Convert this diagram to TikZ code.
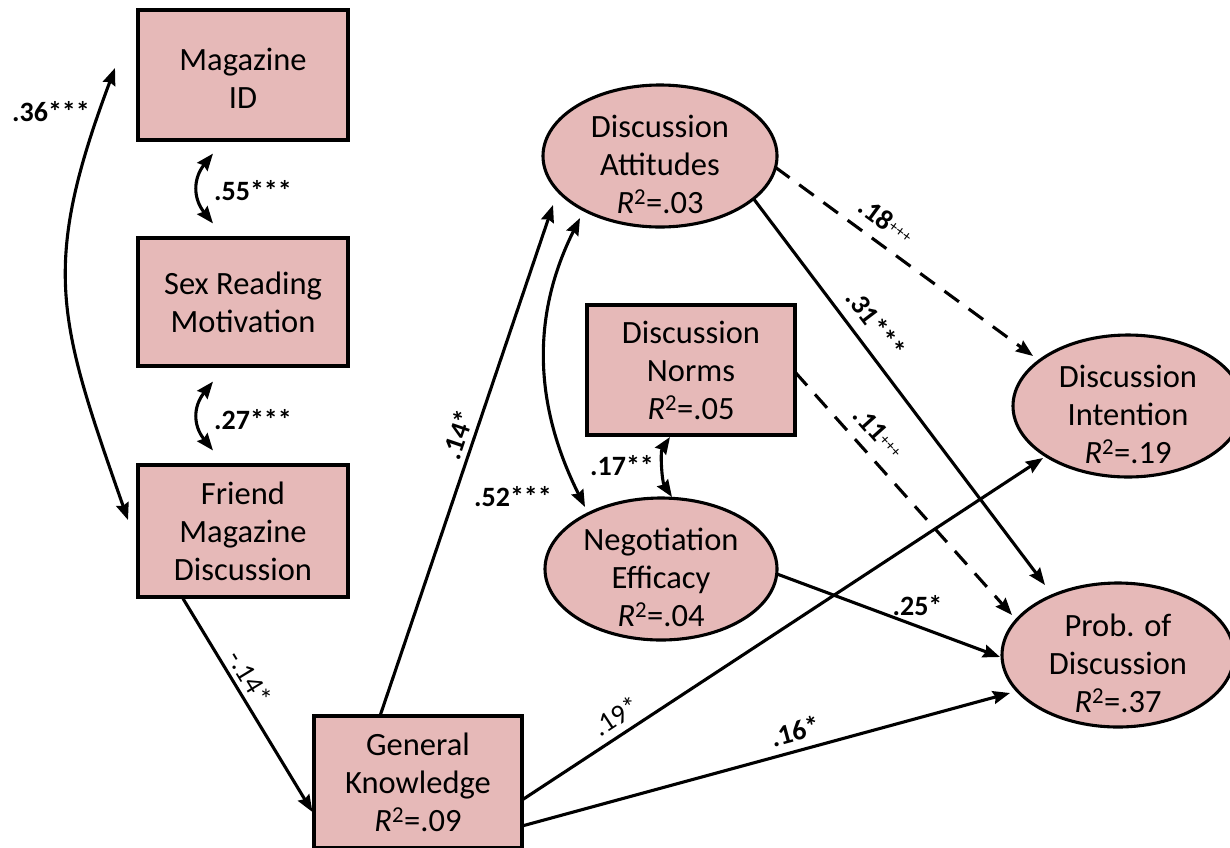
\documentclass[tikz,border=0pt]{standalone}
\usepackage{fontspec}
\setmainfont{Carlito}
\usetikzlibrary{arrows.meta,shapes.geometric}
\definecolor{nodefill}{HTML}{E6B9B8}
\newcommand{\Rsq}[1]{\textit{R}\textsuperscript{2}=.#1}
\newcommand{\pluses}{\raisebox{4pt}{\fontsize{16}{16}\selectfont\mdseries +++}}
% extra head room on the first line of the oval labels
\newcommand{\headroom}{\rule{0pt}{40pt}}
\begin{document}
\begin{tikzpicture}[x=1pt,y=-1pt,
  nodefont/.style={font=\fontsize{32.5}{38}\selectfont},
  box/.style={draw, line width=3.1pt, fill=nodefill, rectangle, align=center, inner sep=0pt, nodefont},
  oval/.style={draw, line width=3.1pt, fill=nodefill, ellipse, align=center, inner sep=-18pt, nodefont},
  tip/.tip={Stealth[length=17pt,width=13pt,inset=2pt]},
  link/.style={line width=3.1pt, -tip},
  dlink/.style={link, dash pattern=on 18pt off 12pt},
  corr/.style={line width=3.1pt, tip-tip},
  lab/.style={font=\fontsize{28}{28}\selectfont\bfseries, inner sep=2pt},
  labr/.style={font=\fontsize{28}{28}\selectfont, inner sep=2pt}]
\useasboundingbox (0,0) rectangle (1230,847);

% observed variables
\node[box, minimum width=210pt, minimum height=130pt] (magid) at (243,75) {\rule{0pt}{28pt}Magazine\\ID};
\node[box, minimum width=210pt, minimum height=128pt] (sexmot) at (243,302) {Sex Reading\\Motivation};
\node[box, minimum width=210pt, minimum height=132pt] (friend) at (243,531) {Friend\\Magazine\\Discussion};
\node[box, minimum width=208pt, minimum height=132pt] (gk) at (418,782) {General\\Knowledge\\\Rsq{09}};
\node[box, minimum width=208pt, minimum height=130pt] (dnorms) at (691,370) {Discussion\\Norms\\\Rsq{05}};

% latent variables
\node[oval, minimum width=234pt, minimum height=142pt] (datt) at (660,156) {\headroom Discussion\\Attitudes\\\Rsq{03}};
\node[oval, minimum width=232pt, minimum height=142pt] (neff) at (661,569) {\headroom Negotiation\\Efficacy\\\Rsq{04}};
\node[oval, minimum width=230pt, minimum height=142pt] (dint) at (1128,406) {\headroom Discussion\\Intention\\\Rsq{19}};
\node[oval, minimum width=232pt, minimum height=144pt] (prob) at (1118,655) {\headroom Prob. of\\Discussion\\\Rsq{37}};

% correlations
\draw[corr] ([shift={(-128,-7)}]magid.center) .. controls +(-75,200) and +(-70,-200) .. ([shift={(-115,-11)}]friend.center);
\node[lab] (c36) at (51,112) {.36***};
\draw[corr] ([shift={(-30,12)}]magid.south) .. controls +(-20,25) and +(-20,-25) .. ([shift={(-30,-13)}]sexmot.north);
\node[lab] (c55) at (253,191) {.55***};
\draw[corr] ([shift={(-30,14)}]sexmot.south) .. controls +(-20,25) and +(-20,-25) .. ([shift={(-30,-13)}]friend.north);
\node[lab] (c27) at (253,420) {.27***};
\draw[corr] ([shift={(-80,62)}]datt.center) .. controls +(-50,100) and +(-50,-100) .. ([shift={(-76,-62)}]neff.center);
\node[lab] (c52) at (513,497) {.52***};
\draw[corr] ([shift={(-21,67)}]dnorms.center) .. controls +(-10,15) and +(-10,-15) .. ([shift={(11,-72)}]neff.center);
\node[lab] (c17) at (622,466) {.17**};

% paths
\draw[link] ([xshift=-60]friend.south) -- ([yshift=-30]gk.west)
  node[labr, pos=0.41, sloped, above=3pt] (p1) {-.14*};
\draw[link] ([shift={(-38,-66)}]gk.center) -- ([shift={(-107,49)}]datt.center)
  node[lab, pos=0.54, sloped, above=3pt] (p2) {.14*};
\draw[dlink] ([shift={(115,11)}]datt.center) -- ([shift={(-95,-50)}]dint.center)
  node[lab, pos=0.38, sloped, above=9pt] (p3) {.18\pluses};
\draw[link] ([shift={(93,42)}]datt.center) -- ([shift={(-73,-70)}]prob.center)
  node[lab, pos=0.36, sloped, above=9pt] (p4) {.31***};
\draw[dlink] ([shift={(104,2)}]dnorms.center) -- ([shift={(-106,-40)}]prob.center)
  node[lab, pos=0.31, sloped, above=9pt] (p5) {.11\pluses};
\draw[link] ([shift={(116,5)}]neff.center) -- ([shift={(-118,2)}]prob.center)
  node[lab, pos=0.63, above=7pt] (p6) {.25*};
\draw[link] ([shift={(104,18)}]gk.center) -- ([shift={(-85,52)}]dint.center)
  node[labr, pos=0.2, sloped, above=5pt] (p7) {.19*};
\draw[link] ([shift={(104,44)}]gk.center) -- ([shift={(-108,38)}]prob.center)
  node[lab, pos=0.57, sloped, above=6pt] (p8) {.16*};
\end{tikzpicture}
\end{document}
